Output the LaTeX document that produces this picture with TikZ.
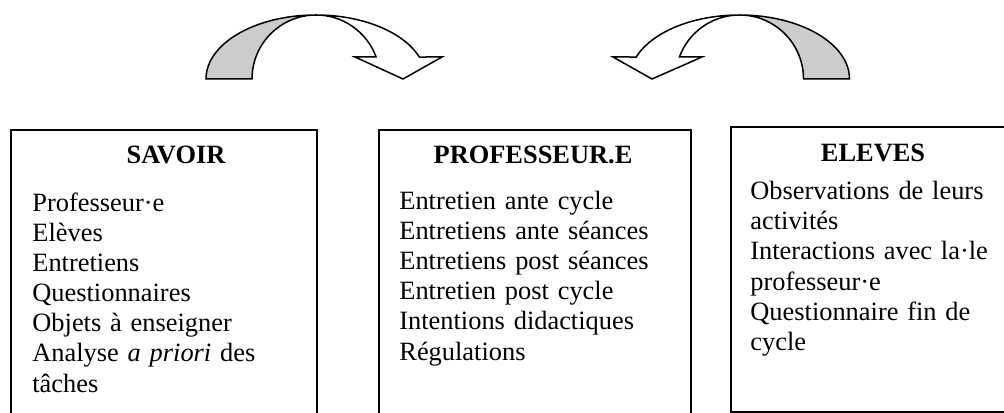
\documentclass[tikz,border=0pt]{standalone}
\usepackage{fontspec}
\setmainfont{Liberation Serif}
\begin{document}
\begin{tikzpicture}[x=0.5pt,y=0.5pt]
\tikzstyle{panel}=[rectangle,draw,line width=1pt,anchor=north west,inner sep=0pt]
\tikzstyle{title}=[anchor=base,inner sep=0pt,font=\fontsize{13.2}{15}\selectfont\bfseries]
\tikzstyle{items}=[anchor=base west,inner sep=0pt,align=left,text width=140pt,font=\fontsize{13.2}{15}\selectfont]
\tikzstyle{back}=[draw,line width=0.75pt,fill=black!20]
\tikzstyle{front}=[draw,line width=0.75pt,fill=white]
\useasboundingbox (0,0) rectangle (1004,412);

% the three boxes
\node[panel,minimum width=153pt,minimum height=150pt] (savoir) at (10,283) {};
\node[panel,minimum width=156pt,minimum height=150pt] (prof) at (378,283) {};
\node[panel,minimum width=137.25pt,minimum height=142.5pt] (eleves) at (730,286) {};

\node[title] (savoir title) at (176,248) {SAVOIR};
\node[title] (prof title) at (533,248) {PROFESSEUR.E};
\node[title] (eleves title) at (873,250) {ELEVES};

\node[items] (savoir list) at (32,200) {Professeur·e\\Elèves\\Entretiens\\Questionnaires\\Objets à enseigner\\Analyse \emph{a priori} des\\tâches};
\node[items] (prof list) at (399,202) {Entretien ante cycle\\Entretiens ante séances\\Entretiens post séances\\Entretien post cycle\\Intentions didactiques\\Régulations};
\node[items] (eleves list) at (750,212) {Observations de leurs\\activités\\Interactions avec la·le\\professeur·e\\Questionnaire fin de\\cycle};

% curved arrows
\filldraw[back] (206,333) arc[start angle=180,end angle=90,x radius=110,y radius=64]
  arc[start angle=90,end angle=180,radius=64] -- cycle;
\filldraw[front] (316,397) arc[start angle=90,end angle=20.1,x radius=110,y radius=64]
  -- (442,355) -- (403,333) -- (355,355) -- (376.1,355)
  arc[start angle=20.1,end angle=90,radius=64] -- cycle;

\filldraw[back] (849.5,333) arc[start angle=0,end angle=90,x radius=110,y radius=64]
  arc[start angle=90,end angle=0,radius=64] -- cycle;
\filldraw[front] (739.5,397) arc[start angle=90,end angle=159.9,x radius=110,y radius=64]
  -- (613,355) -- (652,333) -- (702,355) -- (679.4,355)
  arc[start angle=159.9,end angle=90,radius=64] -- cycle;

\end{tikzpicture}
\end{document}
